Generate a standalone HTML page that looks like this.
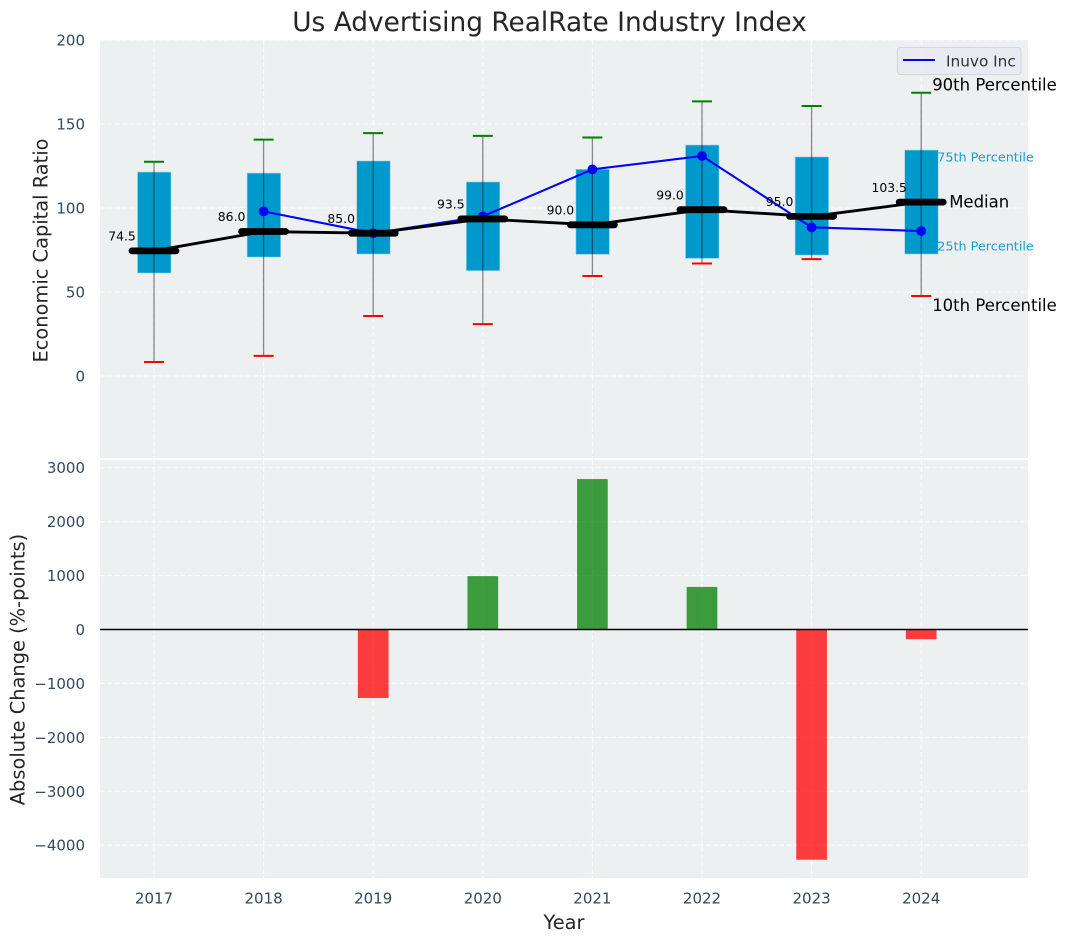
<!DOCTYPE html>
<html>
<head>
<meta charset="utf-8">
<title>Us Advertising RealRate Industry Index</title>
<style>
html,body{margin:0;padding:0;background:#fff;}
svg{display:block;font-family:"DejaVu Sans","Liberation Sans",sans-serif;}
</style>
</head>
<body>
<svg id="chart" width="1067" height="942" viewBox="0 0 1067 942" xmlns="http://www.w3.org/2000/svg">
  <rect x="0" y="0" width="1067" height="942" fill="#ffffff"/>
  <rect x="100" y="40" width="928" height="419" fill="#ecf0f1"/>
  <rect x="100" y="460" width="928" height="418" fill="#ecf0f1"/>
  <g id="grid"></g>
  <g id="bottom-marks"></g>
  <g id="top-marks"></g>
  <g id="annotations"></g>
  <g id="ticks"></g>
  <line x1="100" x2="1028" y1="459" y2="459" stroke="#ffffff" stroke-width="2"/>
  <text x="549.5" y="31" text-anchor="middle" font-size="26.4px" fill="#262626">Us Advertising RealRate Industry Index</text>
  <text transform="translate(47.5,250.5) rotate(-90)" text-anchor="middle" font-size="19.4px" fill="#262626">Economic Capital Ratio</text>
  <text transform="translate(24.5,669.5) rotate(-90)" text-anchor="middle" font-size="19.4px" fill="#262626">Absolute Change (%-points)</text>
  <text x="564" y="929" text-anchor="middle" font-size="19.4px" fill="#262626">Year</text>
  <g>
    <rect x="897.5" y="47.5" width="123.5" height="27" rx="3" fill="#eaeaf2" fill-opacity="0.9" stroke="#d3d5d8" stroke-width="1"/>
    <line x1="903" x2="935" y1="60" y2="60" stroke="#0000ff" stroke-width="2.1"/>
    <text x="946" y="66.5" font-size="15.3px" fill="#333333">Inuvo Inc</text>
  </g>
</svg>
<script>
const years = [2017, 2018, 2019, 2020, 2021, 2022, 2023, 2024];
const p10 = [8.3, 12, 35.7, 30.9, 59.5, 67, 69.6, 47.6];
const p25 = [61.3, 70.8, 72.6, 62.7, 72.4, 70, 72, 72.6];
const medians = [74.5, 86, 85, 93.5, 90, 99, 95, 103.5];
const p75 = [121.4, 120.8, 128, 115.5, 123, 137.5, 130.4, 134.5];
const p90 = [127.5, 140.7, 144.6, 142.9, 142, 163.5, 160.7, 168.6];
const inuvoValues = [null, 98, 85, 95, 123, 131, 88.5, 86.3];
const changeValues = [null, null, -1270, 990, 2790, 790, -4270, -180];
const topTicks = [0, 50, 100, 150, 200];
const bottomTicks = [-4000, -3000, -2000, -1000, 0, 1000, 2000, 3000];

const NS = 'http://www.w3.org/2000/svg';
const xScale = v => 154 + (v - 2017) * 109.6;
const yTop = v => 376 - v * 1.68;
const yBottom = v => 629.5 - v * 0.05392;

function make(tag, parentId, attrs, text) {
  const node = document.createElementNS(NS, tag);
  for (const k in attrs) node.setAttribute(k, attrs[k]);
  if (text !== undefined) node.textContent = text;
  document.getElementById(parentId).appendChild(node);
  return node;
}
function minus(v) { return String(v).replace('-', '\u2212'); }

/* grid */
years.forEach(y => {
  [[40, 459], [460, 878]].forEach(r => {
    const g = make('line', 'grid', {x1: xScale(y), x2: xScale(y), y1: r[0], y2: r[1], stroke: '#ffffff', 'stroke-width': 1.1, 'stroke-dasharray': '5.1 2.2', 'stroke-opacity': 0.85});
    
    
  });
});
topTicks.forEach(v => {
  const g = make('line', 'grid', {x1: 100, x2: 1028, y1: yTop(v), y2: yTop(v), stroke: '#ffffff', 'stroke-width': 1.1, 'stroke-dasharray': '5.1 2.2', 'stroke-opacity': 0.85});
  
  
  const t = make('text', 'ticks', {x: 85, y: yTop(v) + 5.5, 'text-anchor': 'end', 'font-size': '15px', fill: '#34495e'}, minus(v));
  
  
});
bottomTicks.forEach(v => {
  const g = make('line', 'grid', {x1: 100, x2: 1028, y1: yBottom(v), y2: yBottom(v), stroke: '#ffffff', 'stroke-width': 1.1, 'stroke-dasharray': '5.1 2.2', 'stroke-opacity': 0.85});
  
  
  const t = make('text', 'ticks', {x: 85, y: yBottom(v) + 5.5, 'text-anchor': 'end', 'font-size': '15px', fill: '#34495e'}, minus(v));
  
  
});
years.forEach(y => {
  const t = make('text', 'ticks', {x: xScale(y), y: 903.5, 'text-anchor': 'middle', 'font-size': '15px', fill: '#34495e'}, y);
  
  
});

/* bottom bars */
years.forEach((y, i) => {
  const v = changeValues[i];
  if (v === null) return;
  const y0 = yBottom(Math.max(v, 0));
  const y1 = yBottom(Math.min(v, 0));
  const bar = make('rect', 'bottom-marks', {x: xScale(y) - 0.14 * 109.6, y: y0, width: 0.28 * 109.6, height: y1 - y0, fill: v >= 0 ? '#008000' : '#ff0000', 'fill-opacity': 0.75});
  
  
});
const zero = make('line', 'bottom-marks', {x1: 100, x2: 1028, y1: yBottom(0), y2: yBottom(0), stroke: '#000000', 'stroke-width': 1.4});



/* boxes and whiskers */
years.forEach((y, i) => {
  const cx = xScale(y);
  const box = make('rect', 'top-marks', {x: cx - 16.5, y: yTop(p75[i]), width: 33.5, height: yTop(p25[i]) - yTop(p75[i]), fill: '#0099cc', stroke: '#9fd3e6', 'stroke-width': 0.6});
  
  
  const whisker = make('line', 'top-marks', {x1: cx, x2: cx, y1: yTop(p90[i]), y2: yTop(p10[i]), stroke: '#000000', 'stroke-opacity': 0.45, 'stroke-width': 1.3});
  
  
  const capHigh = make('line', 'top-marks', {x1: cx - 10, x2: cx + 10, y1: yTop(p90[i]), y2: yTop(p90[i]), stroke: '#008000', 'stroke-width': 2});
  
  
  const capLow = make('line', 'top-marks', {x1: cx - 10, x2: cx + 10, y1: yTop(p10[i]), y2: yTop(p10[i]), stroke: '#ff0000', 'stroke-width': 2});
  
  
});

/* company line */
let companyPath = '';
years.forEach((y, i) => {
  if (inuvoValues[i] === null) return;
  companyPath += (companyPath ? 'L' : 'M') + xScale(y) + ' ' + yTop(inuvoValues[i]);
});
const inuvoLine = make('path', 'top-marks', {d: companyPath, fill: 'none', stroke: '#0000ff', 'stroke-width': 2.1});


years.forEach((y, i) => {
  if (inuvoValues[i] === null) return;
  const dot = make('circle', 'top-marks', {cx: xScale(y), cy: yTop(inuvoValues[i]), r: 4.9, fill: '#0000ff'});
  
  
});

/* median line and markers */
const medianPath = years.map((y, i) => (i ? 'L' : 'M') + xScale(y) + ' ' + yTop(medians[i])).join('');
const medianLine = make('path', 'top-marks', {d: medianPath, fill: 'none', stroke: '#000000', 'stroke-width': 2.9});


years.forEach((y, i) => {
  const cx = xScale(y);
  const m = make('line', 'top-marks', {x1: cx - 22, x2: cx + 22, y1: yTop(medians[i]), y2: yTop(medians[i]), stroke: '#000000', 'stroke-width': 6.8, 'stroke-linecap': 'round'});
  
  
  const lab = make('text', 'top-marks', {x: cx - 32, y: yTop(medians[i]) - 10.3, 'text-anchor': 'middle', 'font-size': '12.4px', fill: '#000000'}, medians[i].toFixed(1));
  
  
});

/* annotations on the last year */
const last = years.length - 1;
const lastX = xScale(years[last]);
const a90 = make('text', 'annotations', {x: lastX + 11, y: yTop(p90[last]) - 2.5, 'font-size': '16.5px', fill: '#000000'}, '90th Percentile');


const a75 = make('text', 'annotations', {x: lastX + 16, y: yTop(p75[last]) + 11.5, 'font-size': '12.8px', fill: '#1a9fd0'}, '75th Percentile');


const aMed = make('text', 'annotations', {x: lastX + 28, y: yTop(medians[last]) + 5.5, 'font-size': '16.5px', fill: '#000000'}, 'Median');


const a25 = make('text', 'annotations', {x: lastX + 16, y: yTop(p25[last]) - 3.5, 'font-size': '12.8px', fill: '#1a9fd0'}, '25th Percentile');


const a10 = make('text', 'annotations', {x: lastX + 11, y: yTop(p10[last]) + 15, 'font-size': '16.5px', fill: '#000000'}, '10th Percentile');


</script>
</body>
</html>
